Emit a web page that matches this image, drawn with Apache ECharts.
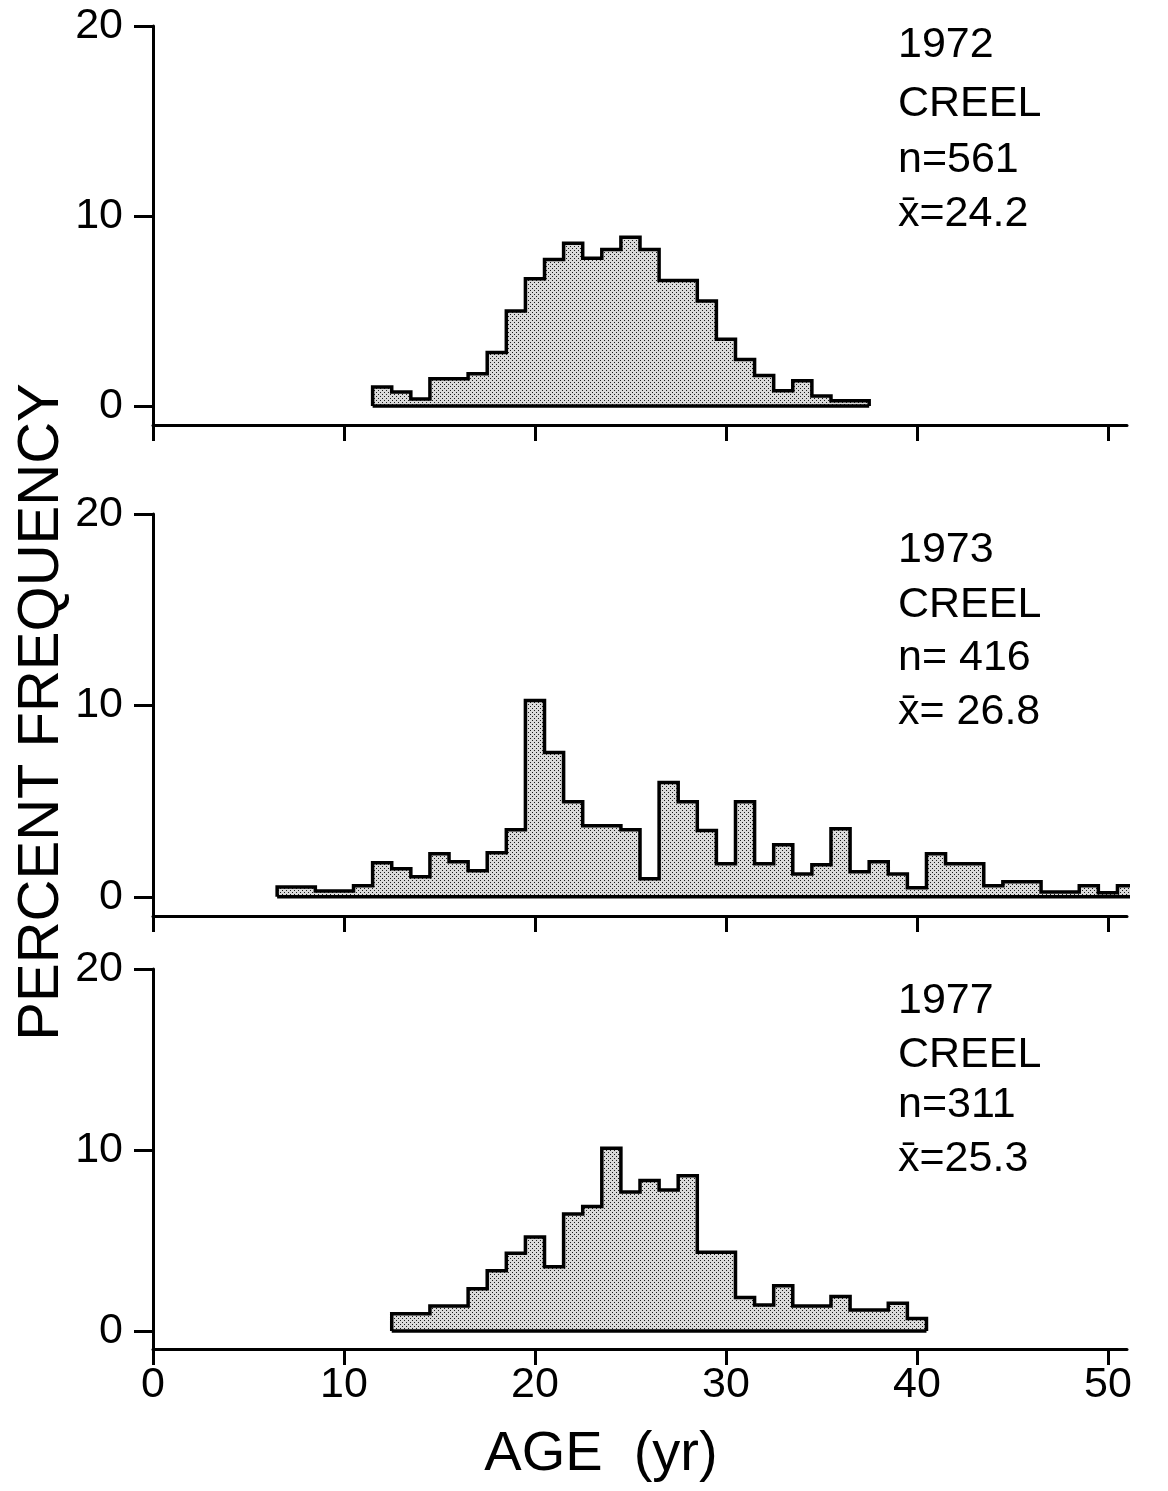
<!DOCTYPE html>
<html><head><meta charset="utf-8">
<script src="https://cdn.jsdelivr.net/npm/echarts/dist/echarts.min.js"></script>
<style>html,body{margin:0;padding:0;background:#fff}#c{width:1168px;height:1491px}</style>
</head><body><div id="c"></div>
<script>
// ---- data (percent frequency by age, 1-yr bins centred on integer ages) ----
const xTicks = [0, 10, 20, 30, 40, 50];
const yTicks = [0, 10, 20];

const ages1972 = [12,13,14,15,16,17,18,19,20,21,22,23,24,25,26,27,28,29,30,31,32,33,34,35,36,37];
const pct1972  = [1.0,0.74,0.37,1.44,1.44,1.70,2.82,5.0,6.7,7.71,8.56,7.77,8.24,8.88,8.24,6.6,6.6,5.53,3.51,2.45,1.6,0.8,1.33,0.53,0.27,0.27];

const ages1973 = [7,8,9,10,11,12,13,14,15,16,17,18,19,20,21,22,23,24,25,26,27,28,29,30,31,32,33,34,35,36,37,38,39,40,41,42,43,44,45,46,47,48,49,50,51];
const pct1973  = [0.52,0.52,0.31,0.31,0.58,1.78,1.47,1.05,2.25,1.83,1.36,2.30,3.51,10.26,7.54,4.97,3.72,3.72,3.51,0.94,5.97,4.97,3.46,1.73,4.97,1.73,2.72,1.20,1.68,3.56,1.31,1.83,1.20,0.47,2.25,1.73,1.73,0.58,0.79,0.79,0.26,0.26,0.58,0.21,0.58];

const ages1977 = [13,14,15,16,17,18,19,20,21,22,23,24,25,26,27,28,29,30,31,32,33,34,35,36,37,38,39,40];
const pct1977  = [0.95,0.95,1.38,1.38,2.33,3.33,4.29,5.19,3.54,6.46,6.88,10.1,7.67,8.31,7.78,8.57,4.34,4.34,1.85,1.43,2.49,1.38,1.38,1.90,1.16,1.16,1.53,0.69];

const notes1972 = ['1972', 'CREEL', 'n=561', 'x\u0304=24.2'];
const notes1973 = ['1973', 'CREEL', 'n= 416', 'x\u0304= 26.8'];
const notes1977 = ['1977', 'CREEL', 'n=311', 'x\u0304=25.3'];

const yTitle = 'PERCENT FREQUENCY';
const xTitle = 'AGE  (yr)';

// ---- rendering ----
const FONT = '"Liberation Sans", Arial, sans-serif';
const pc = document.createElement('canvas'); pc.width = 4; pc.height = 4;
const g = pc.getContext('2d');
g.fillStyle = '#dadada'; g.fillRect(0,0,4,4);
g.fillStyle = '#1a1a1a'; g.fillRect(0,0,1,1); g.fillRect(2,2,1,1);

function stepData(ages, vals) {
  const d = [[ages[0] - 0.5, 0]];
  ages.forEach((a, i) => d.push([a - 0.5, vals[i]]));
  d.push([ages[ages.length - 1] + 0.5, 0]);
  return d;
}

const panels = [
  {ages: ages1972, vals: pct1972, notes: notes1972, top: 26, height: 399, noteY: [45, 104, 160, 214]},
  {ages: ages1973, vals: pct1973, notes: notes1973, top: 514, height: 402, noteY: [550, 605, 658, 712]},
  {ages: ages1977, vals: pct1977, notes: notes1977, top: 969, height: 380, noteY: [1001, 1055, 1105, 1159]}
];

const grid = [], xAxis = [], yAxis = [], series = [], graphic = [];
panels.forEach((p, i) => {
  grid.push({left: 153, width: 974, top: p.top, height: p.height});
  xAxis.push({
    type: 'value', gridIndex: i, min: 0, max: 51,
    axisLine: {onZero: false, lineStyle: {color: '#000', width: 3}},
    axisTick: {customValues: xTicks, length: 16, lineStyle: {color: '#000', width: 3}},
    axisLabel: {show: i === 2, customValues: xTicks, fontSize: 43, color: '#000', margin: 15, fontFamily: FONT},
    splitLine: {show: false}
  });
  yAxis.push({
    type: 'value', gridIndex: i, min: -1, max: 20,
    axisLine: {onZero: false, lineStyle: {color: '#000', width: 3}},
    axisTick: {customValues: yTicks, length: 19, lineStyle: {color: '#000', width: 3}},
    axisLabel: {customValues: yTicks, fontSize: 43, color: '#000', margin: 30, fontFamily: FONT},
    splitLine: {show: false}
  });
  const sd = stepData(p.ages, p.vals);
  series.push({
    type: 'line', xAxisIndex: i, yAxisIndex: i, step: 'end', symbol: 'none', clip: false,
    data: sd,
    lineStyle: {color: '#000', width: 3.5, join: 'miter'},
    areaStyle: {color: {image: pc, repeat: 'repeat'}, opacity: 1}
  });
  series.push({
    type: 'line', xAxisIndex: i, yAxisIndex: i, symbol: 'none', clip: false,
    data: [sd[0], sd[sd.length - 1]],
    lineStyle: {color: '#000', width: 3.5}
  });
  p.notes.forEach((t, k) => {
    graphic.push({type: 'text', x: 898, y: p.noteY[k],
      style: {text: t, font: '43px ' + FONT, fill: '#000', align: 'left', verticalAlign: 'middle'}});
  });
});

graphic.push({type: 'text', x: 42, y: 712, rotation: Math.PI / 2,
  style: {text: yTitle, font: '58px ' + FONT, fill: '#000', align: 'center', verticalAlign: 'middle'}});
graphic.push({type: 'text', x: 601, y: 1455,
  style: {text: xTitle, font: '56px ' + FONT, fill: '#000', align: 'center', verticalAlign: 'middle'}});

const chart = echarts.init(document.getElementById('c'), null, {renderer: 'canvas'});
chart.setOption({animation: false, backgroundColor: '#fff', grid, xAxis, yAxis, series, graphic});
</script></body></html>
